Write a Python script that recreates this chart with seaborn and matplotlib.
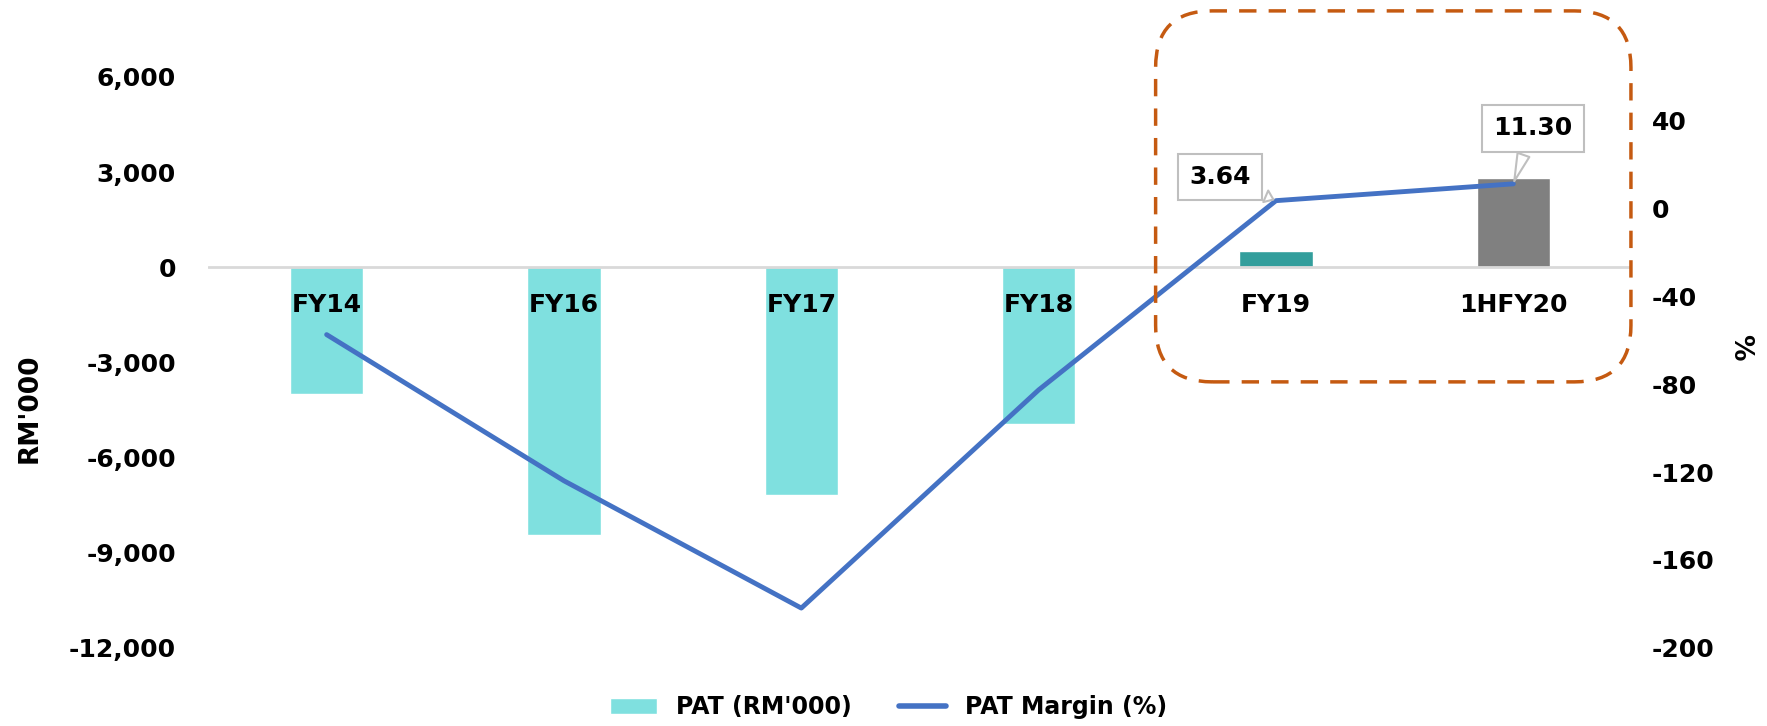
import matplotlib
matplotlib.use("Agg")
import matplotlib.pyplot as plt
import seaborn as sns
import pandas as pd
from matplotlib.patches import Patch, FancyBboxPatch
from matplotlib.lines import Line2D

# chart data
periods = ["FY14", "FY16", "FY17", "FY18", "FY19", "1HFY20"]
pat = [-4000, -8460, -7200, -4960, 500, 2820]
pat_margin = [-57.4, -124.0, -182.0, -82.6, 3.64, 11.30]
bar_colors = ["#7FE0DF", "#7FE0DF", "#7FE0DF", "#7FE0DF", "#339E9C", "#808080"]
left_ticks = [6000, 3000, 0, -3000, -6000, -9000, -12000]
right_ticks = [40, 0, -40, -80, -120, -160, -200]

sns.set_theme(style="white")
plt.rcParams['font.family'] = ['DejaVu Sans']
plt.rcParams['font.weight'] = 'bold'
plt.rcParams['text.color'] = 'black'
plt.rcParams['xtick.color'] = 'black'
plt.rcParams['ytick.color'] = 'black'

df = pd.DataFrame({"Period": periods, "PAT": pat, "Margin": pat_margin})

fig = plt.figure(figsize=(17.67, 7.26), dpi=100)
ax = fig.add_axes([0.1177, 0.108, 0.8059, 0.786])

sns.barplot(data=df, x="Period", y="PAT", hue="Period", palette=bar_colors,
            legend=False, width=0.31, ax=ax, saturation=1)
ax.set_ylim(-12000, 6000)
ax.set_xlim(-0.5, 5.5)
ax.axhline(0, color="#D9D9D9", lw=2, zorder=1)
ax.set_yticks(left_ticks)
ax.set_yticklabels([f"{v:,}" for v in left_ticks], fontsize=18, fontweight="bold")
ax.tick_params(axis="y", length=0, pad=23)
ax.set_xticks([])
ax.set_xlabel("")
ax.set_ylabel("")
for s in ax.spines.values():
    s.set_visible(False)

# category labels sit just under the zero line
for i, p in enumerate(periods):
    ax.text(i, -1200, p, ha="center", va="center", fontsize=18, fontweight="bold", zorder=5)

ax2 = ax.twinx()
sns.lineplot(x=list(range(len(periods))), y=pat_margin, ax=ax2, color="#4472C4",
             lw=3.5, solid_capstyle="round")
ax2.set_ylim(-200, 60)
ax2.set_xlim(-0.5, 5.5)
ax2.set_yticks(right_ticks)
ax2.set_yticklabels([str(v) for v in right_ticks], fontsize=18, fontweight="bold")
ax2.tick_params(axis="y", length=0, pad=14)
ax2.set_ylabel("")
for s in ax2.spines.values():
    s.set_visible(False)

fig.text(0.017, 0.438, "RM'000", rotation=90, ha="center", va="center",
         fontsize=19, fontweight="bold")
fig.text(0.985, 0.522, "%", rotation=270, ha="center", va="center",
         fontsize=19, fontweight="bold")

# callout labels for the last two margins
for i, off in [(4, (-40, 17)), (5, (14, 40))]:
    ax2.annotate(f"{pat_margin[i]:.2f}", xy=(i, pat_margin[i]), xytext=off,
                 textcoords="offset points", ha="center", va="center",
                 fontsize=18, fontweight="bold",
                 bbox=dict(boxstyle="square,pad=0.45", fc="white", ec="#BFBFBF", lw=1.5),
                 arrowprops=dict(arrowstyle="wedge,tail_width=0.5,shrink_factor=0.5",
                                 fc="white", ec="#BFBFBF", lw=1.5))

# dashed highlight box around the latest periods
box = FancyBboxPatch((0.654, 0.474), 0.269, 0.511, transform=fig.transFigure,
                     boxstyle="round,pad=0,rounding_size=0.032", fill=False,
                     ec="#C55A11", lw=2.5, ls=(0, (5, 3.5)), mutation_aspect=17.67 / 7.26)
fig.patches.append(box)

handles = [Patch(facecolor="#7FE0DF", label="PAT (RM'000)"),
           Line2D([0], [0], color="#4472C4", lw=4, solid_capstyle="round", label="PAT Margin (%)")]
fig.legend(handles=handles, loc="lower center", bbox_to_anchor=(0.503, -0.02), ncol=2,
           frameon=False, fontsize=17, handlelength=2.0, columnspacing=2.0)

fig.savefig("out.png", dpi=100)
